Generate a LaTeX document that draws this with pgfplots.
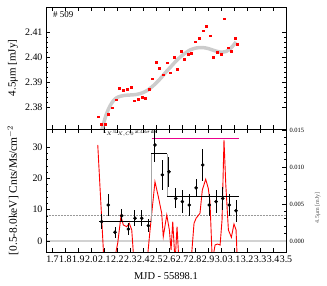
\documentclass[border=0pt]{standalone}
\usepackage{fontspec}
\setmainfont{Liberation Serif}
\usepackage{pgfplots}
\usepackage{pgfplotstable}
\pgfplotsset{compat=1.18}

\pgfplotstableread{
x y
2.051 2.37612
2.079 2.37308
2.107 2.37320
2.133 2.37708
2.161 2.37972
2.190 2.38292
2.218 2.38760
2.246 2.38680
2.275 2.38708
2.303 2.38800
2.331 2.38252
2.359 2.38320
2.388 2.38400
2.413 2.38348
2.442 2.38708
2.470 2.39132
2.496 2.39788
2.524 2.39548
2.552 2.39292
2.581 2.39772
2.606 2.39372
2.635 2.40000
2.662 2.39508
2.689 2.40240
2.716 2.39908
2.745 2.40108
2.773 2.40160
2.801 2.40612
2.830 2.40760
2.858 2.41052
2.886 2.41228
2.912 2.40852
2.940 2.40000
2.968 2.40188
2.997 2.40120
3.025 2.41532
3.051 2.40372
3.079 2.40228
3.107 2.40748
3.125 2.40520
}\irpts

\pgfplotstableread{
x y
2.066 2.3688
2.082 2.3712
2.113 2.3768
2.143 2.3804
2.174 2.3828
2.205 2.3840
2.251 2.3846
2.298 2.3848
2.344 2.3850
2.390 2.3856
2.436 2.3868
2.483 2.3888
2.529 2.3912
2.575 2.3940
2.621 2.3966
2.668 2.3992
2.714 2.4012
2.760 2.4028
2.807 2.4036
2.853 2.4038
2.899 2.4034
2.945 2.4026
2.992 2.4020
3.038 2.4022
3.076 2.4036
3.115 2.4060
}\irfit

\pgfplotstableread{
x y e
2.079 6.17 2.4
2.130 11.5 3.4
2.182 2.78 1.7
2.234 8.08 2.1
2.285 3.83 2.0
2.336 7.25 2.6
2.388 7.25 2.6
2.439 4.89 2.0
2.490 30.7 5.5
2.547 21.1 4.7
2.598 22.1 4.8
2.650 13.6 3.2
2.701 12.6 3.6
2.755 11.5 3.4
2.807 17.0 2.8
2.858 24.3 5.1
2.909 11.5 3.4
2.961 12.6 3.6
3.012 13.6 3.8
3.063 11.5 3.4
3.115 9.68 3.5
}\xraypts

\pgfplotstableread{
x y
2.049 0.01297
2.097 -0.00284
2.174 -0.00284
2.203 -0.00027
2.228 0.00338
2.246 0.00216
2.272 0.00193
2.292 0.00239
2.311 0.00149
2.328 -0.00284
2.429 -0.00284
2.452 0.00149
2.490 0.00801
2.516 0.00598
2.542 0.00374
2.554 0.00058
2.581 0.00351
2.601 0.00149
2.614 -0.00122
2.627 0.00261
2.645 -0.00284
2.660 0.00193
2.675 -0.00284
2.768 -0.00284
2.791 0.00239
2.807 0.00307
2.837 0.00374
2.855 0.00689
2.881 0.00834
2.901 0.00712
2.914 0.00531
2.932 -0.00284
2.953 -0.00054
2.971 -0.00041
2.992 -0.00054
3.007 0.00284
3.022 0.01365
3.036 0.00757
3.056 0.00149
3.079 0.00050
3.099 0.00230
3.115 0.00149
3.125 -0.00284
}\redline

\pgfplotsset{
  base/.style={
    scale only axis, width=240bp,
    xmin=1.65, xmax=3.5,
    tick align=inside,
    axis line style={line width=0.8pt},
    major tick length=4bp, minor tick length=2bp,
    every tick/.style={black, line width=0.6pt},
    tick label style={font=\fontsize{10}{12}\selectfont},
    scaled ticks=false,
    /pgf/number format/assume math mode=true,
  },
}

\begin{document}
\begin{tikzpicture}
\path[use as bounding box] (-46bp,-34bp) rectangle (281bp,252bp);

% top panel
\begin{axis}[base,
  at={(0bp,123bp)}, anchor=south west, height=122bp,
  ymin=2.3712, ymax=2.42,
  xtick={1.7,1.8,...,3.5}, xticklabels={},
  xtick pos=both, ytick pos=both,
  ytick={2.38,2.39,2.40,2.41},
  minor y tick num=4,
  yticklabel style={/pgf/number format/fixed, /pgf/number format/fixed zerofill, /pgf/number format/precision=2},
  ylabel={4.5μm [mJy]},
  ylabel style={at={(axis description cs:-0.1375,0.5)}, anchor=center, font=\fontsize{11}{12}\selectfont},
]
\addplot[gray!40, line width=3.5pt, smooth] table[x=x,y=y] {\irfit};
\addplot[only marks, mark=square*, mark size=1pt, red] table[x=x,y=y] {\irpts};
\node[anchor=west, font=\fontsize{9}{10}\selectfont] at (axis description cs:0.015,0.94) {\# 509};
\end{axis}

% bottom panel, right axis (red curve)
\begin{axis}[base,
  at={(0bp,0bp)}, anchor=south west, height=123bp,
  axis x line=none, axis y line*=right,
  ymin=-0.001486, ymax=0.01513,
  ytick={0,0.005,0.010,0.015},
  minor y tick num=4,
  yticklabel style={font=\fontsize{6.5}{7}\selectfont, /pgf/number format/fixed, /pgf/number format/fixed zerofill, /pgf/number format/precision=3},
  ylabel={4.5μm [mJy]},
  ylabel style={at={(axis description cs:1.132,0.36)}, anchor=center, font=\fontsize{6}{7}\selectfont, gray!70!black},
]
\addplot[gray!35, line width=1.8pt] coordinates {(1.65,0) (3.5,0)};
\addplot[gray!80, densely dotted, line width=0.5pt] coordinates {(1.65,0.00351) (3.5,0.00351)};
\addplot[red, line width=0.9pt] table[x=x,y=y] {\redline};
\end{axis}

% bottom panel, left axis
\begin{axis}[base,
  at={(0bp,0bp)}, anchor=south west, height=123bp,
  ymin=-3.51, ymax=35.78,
  xtick={1.7,1.8,...,3.5},
  xtick pos=both, ytick pos=left,
  minor y tick num=4,
  xticklabel style={/pgf/number format/fixed, /pgf/number format/fixed zerofill, /pgf/number format/precision=1},
  ytick={0,10,20,30},
  xlabel={MJD - 55898.1},
  xlabel style={at={(axis description cs:0.5,0)}, yshift=-24bp, anchor=center, font=\fontsize{10.5}{12}\selectfont},
  ylabel={[0.5-8.0keV] Cnts/Ms/cm$^{-2}$},
  ylabel style={at={(axis description cs:-0.1375,0.5)}, anchor=center, font=\fontsize{11.5}{12}\selectfont},
]
\addplot[gray!70, line width=1pt] coordinates {(2.460,6.17) (2.460,27.8)};
\addplot[gray!70, line width=1pt] coordinates {(2.585,27.8) (2.585,14.06)};
\addplot[black, line width=1pt] coordinates {(2.061,6.17) (2.460,6.17)};
\addplot[black, line width=1pt] coordinates {(2.460,27.8) (2.585,27.8)};
\addplot[black, line width=1pt] coordinates {(2.585,14.06) (3.138,14.06)};
\addplot[magenta, line width=0.8pt] coordinates {(2.465,32.8) (3.138,32.8)};
\addplot[only marks, mark=*, mark size=1.6pt, black,
  error bars/.cd, y dir=both, y explicit, error mark=none,
  error bar style={line width=1pt}]
  table[x=x, y=y, y error=e] {\xraypts};
\node[font=\fontsize{5}{6}\selectfont] at (axis cs:2.298,34.5) {L$_{X}$/L$_{X,C0}$\,at\,3.8$\sigma$\,dis};
\end{axis}
\end{tikzpicture}
\end{document}
